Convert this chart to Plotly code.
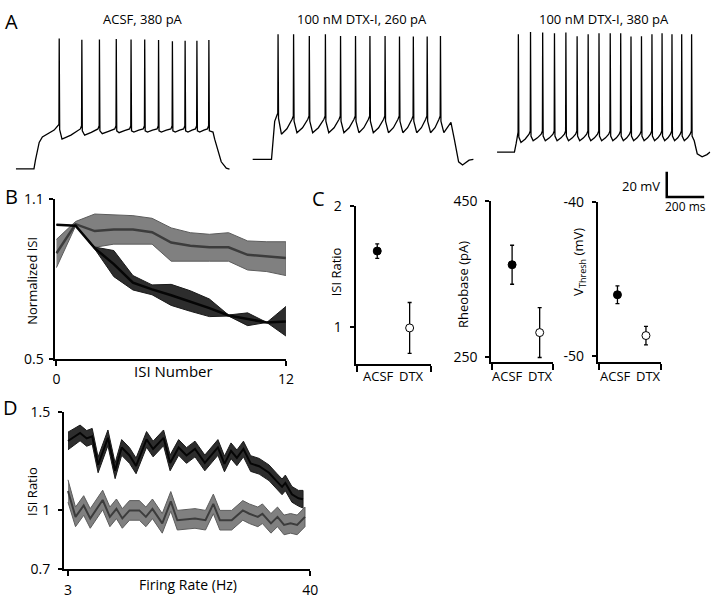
import plotly.graph_objects as go

W, H = 720, 604
FONT = "Open Sans"


def fx(px):
    return px / W


def fy(py):
    return 1 - py / H


# ---------------- Panel A : voltage traces (ms, mV) ----------------
a_titles = ["ACSF, 380 pA", "100 nM DTX-I, 260 pA", "100 nM DTX-I, 380 pA"]

t1_pre_t = [0, 97, 105, 125, 142, 168, 205]
t1_pre_v = [-70, -70, -63, -49, -44.6, -42.3, -39.2]
t1_spk_t = [232, 353, 447, 537, 616, 689, 763, 837, 905, 968, 1032]
t1_spk_peak = [33.6, 32.5, 32.7, 33.1, 32.7, 32.7, 32.3, 31.3, 31.8, 31.8, 32.3]
t1_spk_thr = [-34.8, -35.8, -35.8, -35.8, -35.8, -35.8, -35.8, -35.8, -35.8, -35.8, -35.8]
t1_trough = [-46.4, -43.3, -42.1, -41.3, -40.8, -40.8, -40.8, -40.8, -40.8, -40.8, -40.8]
t1_post_t = [1054, 1063, 1081, 1098, 1125, 1142]
t1_post_v = [-40.8, -46.4, -56.7, -64.4, -69.5, -70.2]

t2_pre_t = [0, 102, 111, 119, 132]
t2_pre_v = [-62.5, -62.5, -46.4, -32.3, -27.0]
t2_spk_t = [137, 220, 304, 390, 471, 551, 628, 709, 786, 860, 934, 1005]
t2_spk_peak = [36.9, 36.9, 35.6, 36.9, 35.6, 35.6, 35.6, 35.6, 35.1, 35.1, 35.1, 35.6]
t2_spk_thr = [-25.9, -28.1, -28.1, -28.1, -28.1, -28.1, -28.1, -28.1, -28.1, -28.1, -28.1, -28.1]
t2_trough = [-42.5, -41.3, -41.3, -41.3, -41.3, -41.3, -41.3, -41.3, -41.3, -41.3, -41.3, -41.3]
t2_post_t = [1061, 1079, 1102, 1123, 1158, 1181]
t2_post_v = [-33.1, -46.4, -64.4, -66.9, -63.1, -62.5]

t3_pre_t = [0, 93, 102, 108]
t3_pre_v = [-56.7, -56.7, -50, -42.3]
t3_spk_t = [114, 179, 244, 307, 368, 428, 487, 545, 605, 661, 716, 772, 828, 882, 935, 987, 1040]
t3_spk_peak = [36.9, 38.7, 38.2, 37.7, 38.2, 35.4, 36.9, 37.7, 37.7, 37.7, 35.2, 35.4, 36.9, 37.7,
               36.9, 36.9, 36.9]
t3_spk_thr = [-40.8] + [-40.0] * 16
t3_trough = [-49.0] + [-47.7] * 16
t3_post_t = [1060, 1070, 1096, 1122, 1139]
t3_post_v = [-51.5, -58, -60.5, -58.7, -56.7]

scale_ms = 200
scale_mv = 20

# ---------------- Panel B ----------------
isi_number = [0, 1, 2, 3, 4, 5, 6, 7, 8, 9, 10, 11, 12]
b_dtx_mean = [0.896, 1.005, 0.979, 0.985, 0.985, 0.975, 0.936, 0.924, 0.918, 0.918, 0.890, 0.885, 0.878]
b_dtx_upper = [0.948, 1.015, 1.043, 1.039, 1.037, 1.027, 0.991, 0.973, 0.967, 0.973, 0.942, 0.939, 0.939]
b_dtx_lower = [0.842, 0.998, 0.918, 0.930, 0.930, 0.930, 0.866, 0.866, 0.866, 0.866, 0.833, 0.827, 0.812]
b_acsf_mean = [1.003, 0.999, 0.915, 0.855, 0.785, 0.760, 0.738, 0.715, 0.690, 0.662, 0.650, 0.636, 0.640]
b_acsf_upper = [1.003, 0.999, 0.919, 0.906, 0.812, 0.777, 0.779, 0.755, 0.724, 0.664, 0.672, 0.636, 0.696]
b_acsf_lower = [1.003, 0.999, 0.912, 0.808, 0.758, 0.740, 0.700, 0.678, 0.658, 0.660, 0.624, 0.636, 0.585]

# ---------------- Panel C ----------------
c_groups = ["ACSF", "DTX"]
isi_ratio_mean = [1.625, 0.99]
isi_ratio_err = [0.06, 0.21]
rheobase_mean = [368, 281]
rheobase_err = [25, 32]
vthresh_mean = [-46.04, -48.69]
vthresh_err = [0.58, 0.60]

# ---------------- Panel D ----------------
d_acsf_rate = [3.0, 4.85, 5.86, 6.7, 7.6, 9.1, 10.2, 11.2, 12.4, 13.4, 15.0, 16.0, 17.6, 18.6, 19.9,
               21.1, 22.4, 23.9, 25.9, 26.9, 27.9, 28.8, 29.8, 30.9, 32.2, 33.7, 34.9, 35.7, 36.2,
               37.2, 38.2, 38.9]
d_acsf_mean = [1.352, 1.393, 1.365, 1.376, 1.23, 1.368, 1.20, 1.319, 1.278, 1.225, 1.36, 1.311,
               1.368, 1.24, 1.319, 1.278, 1.311, 1.24, 1.319, 1.235, 1.302, 1.266, 1.311, 1.237,
               1.223, 1.19, 1.146, 1.118, 1.138, 1.08, 1.06, 1.055]
d_acsf_err = [0.045, 0.04, 0.04, 0.04, 0.04, 0.04, 0.04, 0.04, 0.04, 0.04, 0.04, 0.04, 0.04, 0.04,
              0.04, 0.04, 0.04, 0.04, 0.04, 0.04, 0.04, 0.04, 0.04, 0.04, 0.04, 0.04, 0.04, 0.04,
              0.04, 0.04, 0.04, 0.045]
d_dtx_rate = [3.0, 4.15, 5.4, 6.4, 8.3, 9.4, 10.4, 11.3, 12.4, 13.9, 14.9, 15.9, 17.4, 18.7, 19.7,
              22.4, 24.0, 25.2, 26.2, 28.0, 29.7, 30.7, 32.0, 32.7, 34.0, 35.0, 36.0, 37.0, 38.0, 39.2]
d_dtx_mean = [1.097, 0.965, 1.023, 0.957, 1.051, 0.965, 1.006, 0.957, 0.998, 0.998, 0.965, 1.006,
              0.932, 1.044, 0.948, 0.957, 0.948, 1.031, 0.948, 0.948, 0.998, 0.981, 0.965, 0.981,
              0.932, 0.965, 0.924, 0.932, 0.924, 0.965]
d_dtx_err = [0.057] + [0.05] * 29


# ---------------- helpers ----------------
def build_trace(pre_t, pre_v, spk_t, peak, thr, trough, post_t, post_v, dt):
    t, v = list(pre_t), list(pre_v)
    n = len(spk_t)
    for i in range(n):
        s, p, th, tr = spk_t[i], peak[i], thr[i], trough[i]
        t += [s - 1.5, s, s + 2.5, s + dt]
        v += [th, p, th - 4, tr]
        if i < n - 1:
            nxt, nth = spk_t[i + 1], thr[i + 1]
            t += [s + dt + 0.45 * (nxt - s - dt), nxt - 8]
            v += [tr + 0.3 * (nth - tr), nth - 2.5]
    t += list(post_t)
    v += list(post_v)
    return t, v


fig = go.Figure()

PX_PER_MS = 0.19
PX_PER_MV = 1.3
a_lefts = [13, 253.3, 501.7]
a_ranges = [1145, 1185, 1140]
traces = [
    build_trace(t1_pre_t, t1_pre_v, t1_spk_t, t1_spk_peak, t1_spk_thr, t1_trough, t1_post_t, t1_post_v, 15),
    build_trace(t2_pre_t, t2_pre_v, t2_spk_t, t2_spk_peak, t2_spk_thr, t2_trough, t2_post_t, t2_post_v, 18),
    build_trace(t3_pre_t, t3_pre_v, t3_spk_t, t3_spk_peak, t3_spk_thr, t3_trough, t3_post_t, t3_post_v, 14),
]
xa_names = ["x", "x2", "x3"]
for (t, v), xa in zip(traces, xa_names):
    fig.add_trace(go.Scatter(x=t, y=v, mode="lines", xaxis=xa, yaxis="y",
                             line=dict(color="black", width=1.3), hoverinfo="skip"))

sb_t0, sb_v0 = 907, -92.3
fig.add_trace(go.Scatter(x=[sb_t0, sb_t0, sb_t0 + scale_ms], y=[sb_v0 + scale_mv, sb_v0, sb_v0],
                         mode="lines", xaxis="x3", yaxis="y",
                         line=dict(color="black", width=2.5), hoverinfo="skip"))

GRAY_FILL = "#808080"
GRAY_EDGE = "#5c5c5c"
GRAY_LINE = "#3c3c3c"
DARK_FILL = "#2d2d2d"
DARK_LINE = "#050505"


def band(x, lo, hi, fill, edge, xa, ya):
    return go.Scatter(x=list(x) + list(x)[::-1], y=list(hi) + list(lo)[::-1], fill="toself",
                      fillcolor=fill, mode="lines", line=dict(color=edge, width=1),
                      xaxis=xa, yaxis=ya, hoverinfo="skip")


fig.add_trace(band(isi_number, b_dtx_lower, b_dtx_upper, GRAY_FILL, GRAY_EDGE, "x4", "y4"))
fig.add_trace(go.Scatter(x=isi_number, y=b_dtx_mean, mode="lines", xaxis="x4", yaxis="y4",
                         line=dict(color=GRAY_LINE, width=2.5), hoverinfo="skip"))
fig.add_trace(band(isi_number, b_acsf_lower, b_acsf_upper, DARK_FILL, "#1a1a1a", "x4", "y4"))
fig.add_trace(go.Scatter(x=isi_number, y=b_acsf_mean, mode="lines", xaxis="x4", yaxis="y4",
                         line=dict(color=DARK_LINE, width=2.5), hoverinfo="skip"))

c_data = [(isi_ratio_mean, isi_ratio_err, "x5", "y5"),
          (rheobase_mean, rheobase_err, "x6", "y6"),
          (vthresh_mean, vthresh_err, "x7", "y7")]
for mean, err, xa, ya in c_data:
    for i, (m, e) in enumerate(zip(mean, err)):
        fig.add_trace(go.Scatter(
            x=[i + 1], y=[m], mode="markers", xaxis=xa, yaxis=ya,
            marker=dict(size=8, color="black" if i == 0 else "white",
                        line=dict(color="black", width=1)),
            error_y=dict(type="data", array=[e], color="black", thickness=1.3, width=2),
            hoverinfo="skip"))

d_ah = [m + e for m, e in zip(d_acsf_mean, d_acsf_err)]
d_al = [m - e for m, e in zip(d_acsf_mean, d_acsf_err)]
d_dh = [m + e for m, e in zip(d_dtx_mean, d_dtx_err)]
d_dl = [m - e for m, e in zip(d_dtx_mean, d_dtx_err)]
fig.add_trace(band(d_dtx_rate, d_dl, d_dh, GRAY_FILL, GRAY_EDGE, "x8", "y8"))
fig.add_trace(go.Scatter(x=d_dtx_rate, y=d_dtx_mean, mode="lines", xaxis="x8", yaxis="y8",
                         line=dict(color=GRAY_LINE, width=2), hoverinfo="skip"))
fig.add_trace(band(d_acsf_rate, d_al, d_ah, DARK_FILL, "#1a1a1a", "x8", "y8"))
fig.add_trace(go.Scatter(x=d_acsf_rate, y=d_acsf_mean, mode="lines", xaxis="x8", yaxis="y8",
                         line=dict(color=DARK_LINE, width=2), hoverinfo="skip"))

# ---------------- layout ----------------
TICKFONT = dict(family=FONT, size=14, color="black")
hidden = dict(visible=False, showgrid=False, zeroline=False)

layout = dict(
    width=W, height=H, autosize=False, margin=dict(l=0, r=0, t=0, b=0, pad=0),
    paper_bgcolor="white", plot_bgcolor="white", showlegend=False,
    font=dict(family=FONT, size=12, color="black"),
)
a_v_bottom = -70 + (164 - 200) / PX_PER_MV
a_v_top = -70 + 164 / PX_PER_MV
layout["yaxis"] = dict(hidden, domain=[fy(200), 1], range=[a_v_bottom, a_v_top], anchor="x")
for i, (left, rng) in enumerate(zip(a_lefts, a_ranges)):
    key = "xaxis" if i == 0 else "xaxis%d" % (i + 1)
    layout[key] = dict(hidden, domain=[fx(left), fx(left + rng * PX_PER_MS)], range=[0, rng],
                       anchor="y")


def axis(domain, rng, tickvals, ticktext=None, ticklen=4, anchor=None,
         showlabels=True, standoff=2):
    d = dict(domain=domain, range=rng, showgrid=False, zeroline=False, showline=True,
             linecolor="black", linewidth=2, ticks="outside", ticklen=ticklen, tickwidth=2,
             tickcolor="black", tickmode="array", tickvals=tickvals, tickfont=TICKFONT,
             anchor=anchor, fixedrange=True, showticklabels=showlabels,
             ticklabelstandoff=standoff)
    if ticktext is not None:
        d["ticktext"] = ticktext
    return d


layout["xaxis4"] = axis([fx(53.3), fx(287.3)], [-0.05, 12], [0, 12], ["0", "12"], 5, "y4")
layout["yaxis4"] = axis([fy(360), fy(195)], [0.5, 1.1], [0.5, 1.1], ["0.5", "1.1"], 4, "x4",
                        standoff=3)

c_axes = [
    ("5", [358, 435], [0.33, 2.67], [365, 202], [0.696, 2], [1, 2], ["1", "2"]),
    ("6", [496, 559], [0.25, 2.5], [363, 197], [243.8, 450], [250, 450], ["250", "450"]),
    ("7", [604, 668], [0.31, 2.52], [363, 198], [-50.38, -40], [-50, -40], ["-50", "-40"]),
]
for n, xd, xr, yd, yr, tv, tt in c_axes:
    layout["xaxis" + n] = axis([fx(xd[0]), fx(xd[1])], xr,
                               [xr[0] + 0.03, xr[1] - 0.01], None, 6, "y" + n, showlabels=False)
    layout["yaxis" + n] = axis([fy(yd[0]), fy(yd[1])], yr, tv, tt, 4, "x" + n, standoff=5)

layout["xaxis8"] = axis([fx(62), fx(312)], [2.4, 40], [3, 40], ["3", "40"], 5, "y8")
layout["yaxis8"] = axis([fy(577), fy(415)], [0.7, 1.5], [0.7, 1, 1.5], ["0.7", "1", "1.5"], 4, "x8",
                        standoff=5)

anns = []


def ann(text, px, py, size=12, xanchor="center", angle=0):
    anns.append(dict(text=text, x=fx(px), y=fy(py), xref="paper", yref="paper", showarrow=False,
                     xanchor=xanchor, yanchor="middle", textangle=angle,
                     font=dict(family=FONT, size=size, color="black")))


ann("A", 9, 12, 20)
ann("B", 9, 193, 20)
ann("C", 320, 195, 20)
ann("D", 8, 410, 20)
ann(a_titles[0], 142, 9, 13)
ann(a_titles[1], 365, 9, 13)
ann(a_titles[2], 610, 9, 13)
ann("20 mV", 669, 182, 13, xanchor="right")
ann("200 ms", 693, 203, 12)
ann("ISI Number", 173, 373, 15)
ann("Normalized ISI", 30, 280, 13, angle=-90)
c_label_pos = [(381, 415), (512, 546), (622, 656)]
for pos in c_label_pos:
    for g, px in zip(c_groups, pos):
        ann(g, px, 378, 13)
ann("ISI Ratio", 338, 270, 13, angle=-90)
ann("Rheobase (pA)", 467, 283, 13, angle=-90)
ann("V<sub>Thresh</sub> (mV)", 585, 260, 13, angle=-90)
ann("Firing Rate (Hz)", 188, 593, 14)
ann("ISI Ratio", 30, 497, 13, angle=-90)
layout["annotations"] = anns

fig.update_layout(**layout)
fig.write_html("out.html", config={"displayModeBar": False},
               post_script="document.body.style.margin='0';")
